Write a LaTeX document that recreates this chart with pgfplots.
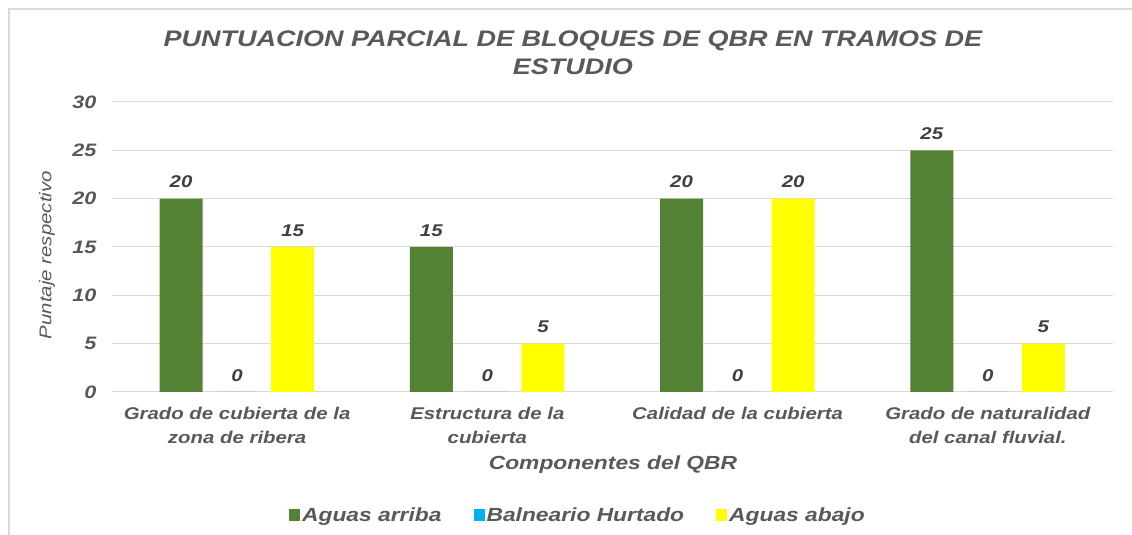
\documentclass[border=0pt]{standalone}
\usepackage{fontspec}
\setmainfont{Liberation Sans}[FakeStretch=1.2]
\usepackage{pgfplots}
\pgfplotsset{compat=1.18}
\definecolor{cgreen}{HTML}{548235}
\definecolor{cblue}{HTML}{00B0F0}
\definecolor{cyellow}{HTML}{FFFF00}
\definecolor{ctext}{HTML}{595959}
\definecolor{clabel}{HTML}{404040}
\definecolor{cgrid}{HTML}{D9D9D9}
\begin{document}
\begin{tikzpicture}[x=1pt,y=1pt]
\useasboundingbox (0,0) rectangle (1132,535);
\fill[white] (0,0) rectangle (1132,535);
\draw[cgrid, line width=1.5pt] (9,0) -- (9,526) -- (1132,526);
\begin{axis}[
  at={(112pt,143pt)}, anchor=south west,
  scale only axis, width=1001pt, height=290pt,
  xmin=-0.5, xmax=3.5, ymin=0, ymax=30,
  ytick={0,5,10,15,20,25,30},
  xtick={0,1,2,3},
  xticklabels={{Grado de cubierta de la\\zona de ribera},{Estructura de la\\cubierta},{Calidad de la cubierta},{Grado de naturalidad\\del canal fluvial.}},
  /pgf/number format/assume math mode=true,
  axis line style={draw=none},
  tick style={draw=none},
  ymajorgrids, grid style={cgrid, line width=1pt},
  yticklabel style={font=\fontsize{18}{21}\selectfont\bfseries\itshape, text=ctext, xshift=-12pt},
  xticklabel style={font=\fontsize{17}{24}\selectfont\bfseries\itshape, text=ctext, text width=270pt, align=center, anchor=north, yshift=-7pt},
  title={PUNTUACION PARCIAL DE BLOQUES DE QBR EN TRAMOS DE\\ESTUDIO},
  title style={font=\fontsize{22.5}{28}\selectfont\bfseries\itshape, text=ctext, align=center, at={(axis description cs:0.4605,1.150)}, anchor=center},
  xlabel={Componentes del QBR},
  xlabel style={font=\fontsize{19}{21}\selectfont\bfseries\itshape, text=ctext, at={(axis description cs:0.5005,-0.252)}, anchor=center},
  ylabel={Puntaje respectivo},
  ylabel style={font=\fontsize{17}{21}\selectfont\itshape, text=ctext, at={(axis description cs:-0.065,0.472)}, anchor=center, rotate=0},
  ybar, bar width=0.172,
  nodes near coords,
  every node near coord/.append style={font=\fontsize{17}{19}\selectfont\bfseries\itshape, text=clabel, yshift=7pt},
  legend columns=3,
  legend style={draw=none, fill=none, at={(axis description cs:0.4655,-0.424)}, anchor=center,
    font=\fontsize{19}{21}\selectfont\bfseries\itshape, text=ctext,
    /tikz/every even column/.append style={column sep=30pt}},
  legend image code/.code={\fill[#1] (-2pt,-6pt) rectangle (9pt,6pt);},
]
\addplot[fill=cgreen, draw=none, bar shift=-0.224] coordinates {(0,20) (1,15) (2,20) (3,25)};
\addplot[fill=cblue, draw=none, bar shift=0] coordinates {(0,0) (1,0) (2,0) (3,0)};
\addplot[fill=cyellow, draw=none, bar shift=0.222] coordinates {(0,15) (1,5) (2,20) (3,5)};
\legend{Aguas arriba,Balneario Hurtado,Aguas abajo}
\end{axis}
\end{tikzpicture}
\end{document}
